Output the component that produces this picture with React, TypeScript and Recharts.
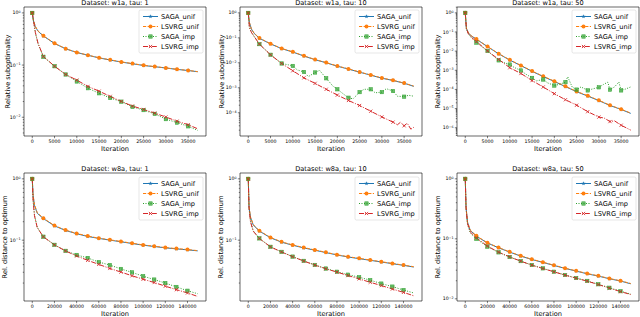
import React from 'react';
import { LineChart, Line, XAxis, YAxis, ReferenceArea } from 'recharts';

const FONT = '"DejaVu Sans", Verdana, sans-serif';

// iteration grids (w1a: ~15 epochs of 2477 samples, w8a: ~3 epochs of 49749)
const itW1a = [0, 250, 700, 1300, 2500, 5000, 7500, 10000, 12500, 15000, 17500, 20000, 22500, 25000, 27500, 30000, 32500, 35000, 37155];
const itW8a = [0, 700, 2000, 4500, 10000, 20000, 30000, 40000, 50000, 60000, 70000, 80000, 90000, 100000, 110000, 120000, 130000, 140000, 149247];

const xTicksW1a = [0, 5000, 10000, 15000, 20000, 25000, 30000, 35000];
const xTicksW8a = [0, 20000, 40000, 60000, 80000, 100000, 120000, 140000];

// w1a, tau 1
const w1aT1SagaUnif = [1, 0.71, 0.54, 0.445, 0.36, 0.259, 0.205, 0.174, 0.154, 0.137, 0.125, 0.114, 0.106, 0.098, 0.093, 0.0878, 0.0826, 0.0786, 0.0745];
const w1aT1LsvrgUnif = [1, 0.72, 0.55, 0.45, 0.363, 0.261, 0.206, 0.175, 0.155, 0.138, 0.126, 0.115, 0.107, 0.099, 0.0935, 0.0883, 0.083, 0.079, 0.0748];
const w1aT1SagaImp = [1, 0.73, 0.41, 0.255, 0.144, 0.095, 0.066, 0.0485, 0.036, 0.0288, 0.0234, 0.0199, 0.0158, 0.0137, 0.0116, 0.0092, 0.0079, 0.0067, 0.0056];
const w1aT1LsvrgImp = [1, 0.74, 0.42, 0.26, 0.146, 0.095, 0.066, 0.0515, 0.039, 0.0316, 0.0251, 0.0201, 0.0164, 0.0141, 0.012, 0.0101, 0.0084, 0.0072, 0.006];

// w1a, tau 10
const w1aT10SagaUnif = [1, 0.41, 0.225, 0.152, 0.096, 0.057, 0.037, 0.027, 0.0186, 0.0133, 0.01, 0.0073, 0.0056, 0.0042, 0.0032, 0.00242, 0.00196, 0.00152, 0.00114];
const w1aT10LsvrgUnif = [1, 0.42, 0.23, 0.155, 0.098, 0.058, 0.0376, 0.0275, 0.019, 0.0136, 0.0102, 0.0075, 0.0057, 0.0043, 0.00326, 0.00247, 0.002, 0.00155, 0.00117];
const w1aT10ImpIt = [0, 250, 700, 1300, 2500, 5000, 7500, 9000, 10000, 11000, 12500, 13500, 15000, 16000, 17500, 19000, 20000, 21500, 22500, 23500, 24500, 25000, 26000, 27500, 28500, 30000, 31000, 32500, 33500, 35000, 36000, 37155];
const w1aT10SagaImp = [1, 0.26, 0.166, 0.115, 0.056, 0.021, 0.0094, 0.0083, 0.0075, 0.0052, 0.0043, 0.0028, 0.0041, 0.005, 0.0024, 0.00117, 0.00087, 0.00054, 0.0004, 0.00036, 0.00054, 0.00067, 0.00087, 0.00087, 0.00063, 0.00067, 0.00092, 0.00074, 0.00046, 0.00044, 0.0005, 0.00046];
const w1aT10LsvrgIt = [0, 250, 700, 1300, 2500, 5000, 7500, 10000, 12500, 15000, 17500, 20000, 22500, 25000, 27500, 30000, 32500, 33500, 34200, 35000, 35700, 36500, 37155];
const w1aT10LsvrgImp = [1, 0.26, 0.166, 0.115, 0.056, 0.0209, 0.0094, 0.0048, 0.0025, 0.0015, 0.00087, 0.00051, 0.00031, 0.000195, 0.000115, 6.8e-5, 4.2e-5, 3.3e-5, 4.2e-5, 3.0e-5, 3.8e-5, 2.2e-5, 2.6e-5];

// w1a, tau 50
const w1aT50SagaUnif = [1, 0.155, 0.088, 0.064, 0.042, 0.017, 0.0072, 0.0034, 0.00175, 0.00088, 0.00047, 0.00026, 0.00014, 7.6e-5, 4.5e-5, 2.6e-5, 1.45e-5, 9.0e-6, 5.6e-6];
const w1aT50LsvrgUnif = [1, 0.16, 0.09, 0.065, 0.0425, 0.0174, 0.0074, 0.0035, 0.0018, 0.00091, 0.00049, 0.00027, 0.000145, 7.9e-5, 4.7e-5, 2.7e-5, 1.5e-5, 9.3e-6, 5.8e-6];
const w1aT50ImpIt = [0, 250, 700, 1300, 2500, 5000, 7500, 8500, 10000, 11000, 12500, 13500, 15000, 16000, 17500, 18500, 20000, 21000, 22500, 23000, 24000, 25000, 26000, 27500, 28500, 30000, 31000, 32000, 32500, 33500, 34500, 35000, 36000, 37155];
const w1aT50SagaImp = [1, 0.15, 0.08, 0.052, 0.028, 0.0102, 0.0033, 0.0026, 0.002, 0.0014, 0.00098, 0.00065, 0.0004, 0.00028, 0.00033, 0.00022, 0.00016, 0.00018, 0.00024, 0.00046, 0.000135, 9.8e-5, 0.000135, 8.9e-5, 0.000105, 0.000129, 0.00018, 0.00024, 9.8e-5, 0.000135, 0.00024, 8.9e-5, 0.000105, 0.000135];
const w1aT50LsvrgIt = [0, 250, 700, 1300, 2500, 5000, 7500, 10000, 12500, 15000, 17500, 20000, 22500, 25000, 27500, 30000, 31200, 32500, 33500, 35000, 37155];
const w1aT50LsvrgImp = [1, 0.15, 0.08, 0.055, 0.032, 0.0102, 0.0037, 0.00136, 0.00068, 0.00029, 0.000134, 6e-5, 2.9e-5, 1.5e-5, 6.9e-6, 3.6e-6, 3.2e-6, 2.1e-6, 2.3e-6, 1.35e-6, 7.5e-7];

// w8a, tau 1
const w8aT1SagaUnif = [1, 0.54, 0.37, 0.275, 0.225, 0.171, 0.144, 0.1275, 0.115, 0.107, 0.1002, 0.0942, 0.0883, 0.0829, 0.0789, 0.075, 0.0722, 0.0696, 0.067];
const w8aT1LsvrgUnif = [1, 0.55, 0.38, 0.28, 0.228, 0.173, 0.146, 0.129, 0.1165, 0.108, 0.1014, 0.0953, 0.0893, 0.0838, 0.0797, 0.0758, 0.073, 0.0703, 0.0676];
const w8aT1SagaImp = [1, 0.46, 0.255, 0.162, 0.114, 0.084, 0.067, 0.0575, 0.0513, 0.044, 0.0393, 0.034, 0.0298, 0.0259, 0.0228, 0.02, 0.0173, 0.015, 0.0134];
const w8aT1LsvrgImp = [1, 0.45, 0.25, 0.16, 0.1135, 0.0838, 0.0668, 0.0553, 0.0469, 0.0403, 0.0346, 0.0302, 0.0263, 0.0231, 0.0204, 0.0178, 0.0156, 0.0138, 0.0121];

// w8a, tau 10
const w8aT10SagaUnif = [1, 0.34, 0.235, 0.177, 0.1405, 0.1095, 0.0928, 0.0828, 0.0749, 0.0686, 0.0628, 0.0574, 0.0532, 0.05, 0.047, 0.0441, 0.0414, 0.0389, 0.0365];
const w8aT10LsvrgUnif = [1, 0.35, 0.24, 0.18, 0.1426, 0.111, 0.094, 0.0838, 0.0758, 0.0694, 0.0635, 0.058, 0.0538, 0.0506, 0.0475, 0.0446, 0.0418, 0.0393, 0.0369];
const w8aT10SagaImp = [1, 0.34, 0.205, 0.142, 0.107, 0.078, 0.0645, 0.054, 0.046, 0.0395, 0.0345, 0.0306, 0.0274, 0.0249, 0.0223, 0.0196, 0.0175, 0.0154, 0.0138];
const w8aT10LsvrgImp = [1, 0.33, 0.2, 0.14, 0.1066, 0.0778, 0.0643, 0.0538, 0.0457, 0.0393, 0.0342, 0.0302, 0.0265, 0.0234, 0.0206, 0.0182, 0.016, 0.0141, 0.0124];

// w8a, tau 50
const w8aT50SagaUnif = [1, 0.33, 0.19, 0.138, 0.111, 0.085, 0.0709, 0.0601, 0.0515, 0.0453, 0.0404, 0.036, 0.0321, 0.029, 0.0261, 0.0239, 0.0216, 0.0198, 0.0178];
const w8aT50LsvrgUnif = [1, 0.34, 0.19, 0.14, 0.112, 0.0858, 0.0716, 0.0607, 0.052, 0.0457, 0.0408, 0.0364, 0.0324, 0.0293, 0.0264, 0.0242, 0.0218, 0.02, 0.018];
const w8aT50SagaImp = [1, 0.33, 0.175, 0.125, 0.1, 0.074, 0.0595, 0.0498, 0.0425, 0.0366, 0.0322, 0.0283, 0.025, 0.0222, 0.0199, 0.0175, 0.0153, 0.0134, 0.012];
const w8aT50LsvrgImp = [1, 0.33, 0.18, 0.13, 0.104, 0.0755, 0.06, 0.05, 0.0425, 0.0364, 0.032, 0.0282, 0.0248, 0.0221, 0.0197, 0.0173, 0.0151, 0.0132, 0.0118];

const SERIES = [
  { name: 'SAGA_unif', color: '#1f77b4', dash: undefined, marker: 'star' },
  { name: 'LSVRG_unif', color: '#ff7f0e', dash: '3.2 1.4', marker: 'circle' },
  { name: 'SAGA_imp', color: '#2ca02c', dash: '1 1.5', marker: 'square' },
  { name: 'LSVRG_imp', color: '#d62728', dash: '5 1.4 1 1.4', marker: 'x' },
];

const pairs = (it: number[], v: number[]) => it.map((x, i) => ({ x, y: v[i] }));

const PLOT_W = 182;
const COL_LEFT = [24, 240, 457];
const ROW_TOP = [7, 173];
const ROW_H = [129, 128];

const PANELS = [
  { title: 'Dataset: w1a, tau: 1', row: 0, col: 0, yLabelX: 7.5, yDomain: [0.00437, 1.297], xDomain: [-1858, 39013], xTicks: xTicksW1a, every: 2500,
    data: [pairs(itW1a, w1aT1SagaUnif), pairs(itW1a, w1aT1LsvrgUnif), pairs(itW1a, w1aT1SagaImp), pairs(itW1a, w1aT1LsvrgImp)] },
  { title: 'Dataset: w1a, tau: 10', row: 0, col: 1, yLabelX: 222, yDomain: [1.17e-5, 1.72], xDomain: [-1858, 39013], xTicks: xTicksW1a, every: 2500,
    data: [pairs(itW1a, w1aT10SagaUnif), pairs(itW1a, w1aT10LsvrgUnif), pairs(w1aT10ImpIt, w1aT10SagaImp), pairs(w1aT10LsvrgIt, w1aT10LsvrgImp)] },
  { title: 'Dataset: w1a, tau: 50', row: 0, col: 2, yLabelX: 437.5, yDomain: [3.7e-7, 2.02], xDomain: [-1858, 39013], xTicks: xTicksW1a, every: 2500,
    data: [pairs(itW1a, w1aT50SagaUnif), pairs(itW1a, w1aT50LsvrgUnif), pairs(w1aT50ImpIt, w1aT50SagaImp), pairs(w1aT50LsvrgIt, w1aT50LsvrgImp)] },
  { title: 'Dataset: w8a, tau: 1', row: 1, col: 0, yLabelX: 4.5, yDomain: [0.0102, 1.245], xDomain: [-7462, 156709], xTicks: xTicksW8a, every: 10000,
    data: [pairs(itW8a, w8aT1SagaUnif), pairs(itW8a, w8aT1LsvrgUnif), pairs(itW8a, w8aT1SagaImp), pairs(itW8a, w8aT1LsvrgImp)] },
  { title: 'Dataset: w8a, tau: 10', row: 1, col: 1, yLabelX: 221, yDomain: [0.0102, 1.245], xDomain: [-7462, 156709], xTicks: xTicksW8a, every: 10000,
    data: [pairs(itW8a, w8aT10SagaUnif), pairs(itW8a, w8aT10LsvrgUnif), pairs(itW8a, w8aT10SagaImp), pairs(itW8a, w8aT10LsvrgImp)] },
  { title: 'Dataset: w8a, tau: 50', row: 1, col: 2, yLabelX: 437.5, yDomain: [0.0092, 1.25], xDomain: [-7462, 156709], xTicks: xTicksW8a, every: 10000,
    data: [pairs(itW8a, w8aT50SagaUnif), pairs(itW8a, w8aT50LsvrgUnif), pairs(itW8a, w8aT50SagaImp), pairs(itW8a, w8aT50LsvrgImp)] },
];

// decades plus 2..9 minor ticks inside the domain
function logTicks(domain: number[]) {
  const out: number[] = [];
  const lo = Math.floor(Math.log10(domain[0]));
  const hi = Math.ceil(Math.log10(domain[1]));
  for (let e = lo; e <= hi; e++) {
    for (let k = 1; k <= 9; k++) {
      const v = k * Math.pow(10, e);
      if (v >= domain[0] && v <= domain[1]) out.push(v);
    }
  }
  return out;
}

function Marker({ kind, cx, cy, color }: any) {
  if (kind === 'circle') return <circle cx={cx} cy={cy} r={2} fill={color} />;
  if (kind === 'square')
    return <rect x={cx - 1.7} y={cy - 1.7} width={3.4} height={3.4} fill={color} fillOpacity={0.7} stroke={color} strokeWidth={0.5} />;
  if (kind === 'x')
    return (
      <g stroke={color} strokeWidth={0.85}>
        <line x1={cx - 1.6} y1={cy - 1.6} x2={cx + 1.6} y2={cy + 1.6} />
        <line x1={cx - 1.6} y1={cy + 1.6} x2={cx + 1.6} y2={cy - 1.6} />
      </g>
    );
  const pts: string[] = [];
  for (let i = 0; i < 10; i++) {
    const r = i % 2 === 0 ? 2.2 : 0.9;
    const a = -Math.PI / 2 + (i * Math.PI) / 5;
    pts.push(`${cx + r * Math.cos(a)},${cy + r * Math.sin(a)}`);
  }
  return <polygon points={pts.join(' ')} fill={color} />;
}

function LogTick({ x, y, payload }: any) {
  const lg = Math.log10(payload.value);
  const e = Math.round(lg);
  const major = Math.abs(lg - e) < 1e-6;
  return (
    <g>
      <line x1={x} x2={x - (major ? 2.2 : 1.2)} y1={y} y2={y} stroke="#000" strokeWidth={0.5} />
      {major && (
        <text x={x - 3.4} y={y + 1.6} textAnchor="end" fontSize={4.7} fontFamily={FONT} fill="#000">
          10<tspan dy={-1.8} fontSize={3.3}>{e === 0 ? '0' : '\u2212' + Math.abs(e)}</tspan>
        </text>
      )}
    </g>
  );
}

function XTick({ x, y, payload }: any) {
  return (
    <g>
      <line x1={x} x2={x} y1={y} y2={y + 2.2} stroke="#000" strokeWidth={0.5} />
      <text x={x} y={y + 7.2} textAnchor="middle" fontSize={4.7} fontFamily={FONT} fill="#000">
        {payload.value}
      </text>
    </g>
  );
}

function Panel({ p }: any) {
  const left = COL_LEFT[p.col];
  const top = ROW_TOP[p.row];
  const h = ROW_H[p.row];
  return (
    <div style={{ position: 'absolute', left: left - 20, top: top - 2 }}>
      <LineChart width={20 + PLOT_W + 2} height={2 + h + 10} margin={{ top: 2, right: 2, bottom: 0, left: 0 }}>
        <XAxis type="number" dataKey="x" domain={p.xDomain} ticks={p.xTicks} allowDataOverflow interval={0}
          tick={(t: any) => <XTick {...t} />} tickLine={false} axisLine={false} tickSize={0} tickMargin={0} height={10} />
        <YAxis type="number" scale="log" domain={p.yDomain} ticks={logTicks(p.yDomain)} allowDataOverflow interval={0}
          tick={(t: any) => <LogTick {...t} />} tickLine={false} axisLine={false} tickSize={0} tickMargin={0} width={20} />
        <ReferenceArea x1={p.xDomain[0]} x2={p.xDomain[1]} y1={p.yDomain[0]} y2={p.yDomain[1]} ifOverflow="visible"
          fill="none" fillOpacity={0} stroke="#000" strokeWidth={0.6} />
        {SERIES.map((s, i) => (
          <Line key={s.name} data={p.data[i]} dataKey="y" type="linear" stroke={s.color} strokeWidth={1}
            strokeDasharray={s.dash} activeDot={false} isAnimationActive={false}
            dot={(d: any) =>
              d.payload.x % p.every === 0 ? (
                <Marker key={`m-${s.name}-${d.index}`} kind={s.marker} cx={d.cx} cy={d.cy} color={s.color} />
              ) : (
                <g key={`m-${s.name}-${d.index}`} />
              )
            } />
        ))}
      </LineChart>
    </div>
  );
}

function LegendBox({ x, y }: any) {
  return (
    <g>
      <rect x={x} y={y} width={64} height={43} rx={1.5} fill="#fff" fillOpacity={0.8} stroke="#ccc" strokeWidth={0.5} />
      {SERIES.map((s, i) => {
        const cy = y + 6.5 + i * 10;
        return (
          <g key={s.name}>
            <line x1={x + 4} x2={x + 19} y1={cy} y2={cy} stroke={s.color} strokeWidth={1} strokeDasharray={s.dash} />
            <Marker kind={s.marker} cx={x + 11.5} cy={cy} color={s.color} />
            <text x={x + 22} y={cy + 2.3} fontSize={6.6} fontFamily={FONT} fill="#000">{s.name}</text>
          </g>
        );
      })}
    </g>
  );
}

export default function App() {
  return (
    <div style={{ position: 'absolute', left: 0, top: 0, width: 640, height: 317, overflow: 'hidden', background: '#fff' }}>
      {PANELS.map((p) => <Panel key={p.title} p={p} />)}
      <svg width={640} height={317} style={{ position: 'absolute', left: 0, top: 0, pointerEvents: 'none' }}>
        {PANELS.map((p) => {
          const left = COL_LEFT[p.col];
          const top = ROW_TOP[p.row];
          const h = ROW_H[p.row];
          const cx = left + PLOT_W / 2;
          const cy = top + h / 2;
          return (
            <g key={p.title} fontFamily={FONT} fill="#000">
              <text x={cx} y={p.row === 0 ? 5 : 171} textAnchor="middle" fontSize={6.6}>{p.title}</text>
              <text x={cx} y={top + h + 14.6} textAnchor="middle" fontSize={6.6}>Iteration</text>
              <text x={p.yLabelX} y={cy} transform={`rotate(-90 ${p.yLabelX} ${cy})`} textAnchor="middle"
                dominantBaseline="central" fontSize={6.6}>
                {p.row === 0 ? 'Relative suboptimality' : 'Rel. distance to optimum'}
              </text>
              <LegendBox x={left + PLOT_W - 67} y={top + (p.row === 0 ? 3 : 4)} />
            </g>
          );
        })}
      </svg>
    </div>
  );
}
